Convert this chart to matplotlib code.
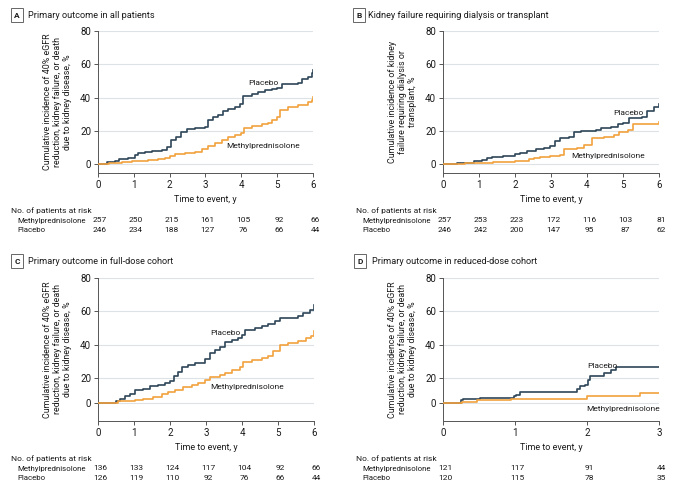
import matplotlib
matplotlib.use('Agg')
import matplotlib.pyplot as plt

plt.rcParams['font.family'] = ['Roboto', 'DejaVu Sans']
plt.rcParams['font.size'] = 6

PLACEBO_COLOR = '#2e4658'
METHYL_COLOR = '#f2a23d'
GRID_COLOR = '#dce2e6'
TEXT_COLOR = '#1a1a1a'

# Panel A: primary outcome in all patients
a_placebo_t = [0, 0.25, 0.47, 0.6, 0.85, 1.03, 1.13, 1.31, 1.5, 1.78, 1.92, 2.05, 2.19, 2.33,
               2.47, 2.7, 2.98, 3.07, 3.22, 3.36, 3.5, 3.64, 3.82, 3.96, 4.05, 4.29, 4.47,
               4.66, 4.85, 5.0, 5.13, 5.59, 5.68, 5.87, 5.96, 6.0]
a_placebo_v = [0, 1.0, 1.8, 2.8, 3.8, 5.4, 6.8, 7.2, 7.8, 8.2, 10, 14.4, 16, 19, 20.8, 21.4,
               22.4, 26.4, 28.4, 29.5, 31.9, 33, 34, 36, 41, 42, 43.5, 44.5, 45, 46, 48, 48.5,
               51, 52.5, 54.5, 56.5]
a_methyl_t = [0, 0.3, 0.5, 0.66, 0.94, 1.13, 1.4, 1.68, 1.87, 2.01, 2.15, 2.43, 2.7, 2.89,
              3.08, 3.26, 3.45, 3.64, 3.82, 4.0, 4.08, 4.29, 4.57, 4.75, 4.85, 5.0, 5.08, 5.31,
              5.59, 5.87, 5.96, 6.0]
a_methyl_v = [0, 0.4, 0.7, 1.0, 1.6, 2.0, 2.4, 3.0, 3.8, 5.0, 5.8, 6.4, 7.4, 9.0, 11, 12.4,
              14.4, 16, 17.4, 18.4, 21.8, 23, 23.8, 24.6, 26.4, 28.4, 32.5, 34, 35.5, 37.5,
              38.5, 40.5]
a_risk_methyl = [257, 250, 215, 161, 105, 92, 66]
a_risk_placebo = [246, 234, 188, 127, 76, 66, 44]

# Panel B: kidney failure requiring dialysis or transplant
b_placebo_t = [0, 0.4, 0.6, 0.85, 1.08, 1.22, 1.36, 1.68, 2.0, 2.15, 2.33, 2.57, 2.8, 2.98,
               3.12, 3.26, 3.5, 3.64, 3.82, 4.24, 4.38, 4.66, 4.85, 5.0, 5.17, 5.54, 5.68,
               5.87, 6.0]
b_placebo_v = [0, 0.5, 0.8, 1.6, 2.4, 3.4, 4.2, 4.8, 5.8, 6.8, 7.8, 8.8, 9.4, 10.8, 13.8,
               15.4, 16.4, 19.4, 19.8, 20.4, 21.4, 22.4, 23.8, 24.4, 27.8, 28.4, 31.9, 34.5,
               35.9]
b_methyl_t = [0, 0.6, 1.13, 1.4, 1.78, 2.01, 2.38, 2.52, 2.7, 2.98, 3.26, 3.37, 3.73, 3.91,
              4.15, 4.47, 4.75, 4.89, 5.13, 5.27, 5.68, 6.0]
b_methyl_v = [0, 0.4, 0.8, 1.2, 1.4, 2.0, 2.8, 3.4, 4.0, 4.8, 5.4, 9.0, 9.4, 11.4, 15.4, 16,
              17.4, 19.4, 20.4, 23.8, 24.2, 25]
b_risk_methyl = [257, 253, 223, 172, 116, 103, 81]
b_risk_placebo = [246, 242, 200, 147, 95, 87, 62]

# Panel C: full-dose cohort (values read against the 20/40/60/80 gridlines;
# the "0" tick in the original sits a little above true zero)
c_placebo_t = [0, 0.5, 0.6, 0.75, 0.89, 1.03, 1.26, 1.44, 1.68, 1.86, 2.0, 2.11, 2.23, 2.34,
               2.51, 2.69, 2.9, 2.97, 3.11, 3.25, 3.39, 3.53, 3.71, 3.9, 3.99, 4.07, 4.36,
               4.55, 4.73, 4.92, 5.06, 5.56, 5.7, 5.89, 6.0]
c_placebo_v = [4.6, 6.0, 7.5, 8.9, 10.5, 12.5, 13.5, 15, 15.6, 16.6, 18.2, 21, 23.6, 26.3,
               27.7, 28.7, 29.1, 31.1, 34.7, 36.8, 38.4, 41.8, 42.8, 43.8, 45.9, 48.9, 49.9,
               51.3, 52.3, 53.9, 56, 57, 59, 61, 64]
c_methyl_t = [0, 0.55, 1.03, 1.26, 1.54, 1.77, 1.95, 2.14, 2.37, 2.6, 2.79, 2.97, 3.11, 3.39,
              3.53, 3.71, 3.94, 4.04, 4.27, 4.55, 4.73, 4.87, 5.06, 5.29, 5.56, 5.79, 5.93,
              6.0]
c_methyl_v = [4.6, 5.9, 6.5, 7.5, 8.5, 10.1, 11.5, 12.9, 14.5, 15.6, 16.6, 18.6, 20.2, 21.6,
              23, 24.6, 26.7, 29.7, 30.7, 31.7, 33.1, 35.8, 39.8, 41.2, 42.4, 43.8, 45.3, 47.9]
c_risk_methyl = [136, 133, 124, 117, 104, 92, 66]
c_risk_placebo = [126, 119, 110, 92, 76, 66, 44]

# Panel D: reduced-dose cohort
d_placebo_t = [0, 0.25, 0.28, 0.51, 0.98, 1.02, 1.07, 1.86, 1.9, 1.97, 2.01, 2.04, 2.23,
               2.34, 2.4, 3.0]
d_placebo_v = [4.6, 6.5, 7.5, 8.1, 8.9, 9.9, 11.5, 13.5, 15, 15.6, 18.6, 21, 22.6, 24.6,
               26.7, 26.7]
d_methyl_t = [0, 0.26, 0.47, 0.95, 2.0, 2.74, 3.0]
d_methyl_v = [4.6, 5.5, 6.5, 7.5, 8.9, 11.1, 11.1]
d_risk_methyl = [121, 117, 91, 44]
d_risk_placebo = [120, 115, 78, 35]

YLABEL_PRIMARY = ('Cumulative incidence of 40% eGFR\nreduction, kidney failure, or death\n'
                  'due to kidney disease, %')
YLABEL_KIDNEY = 'Cumulative incidence of kidney\nfailure requiring dialysis or\ntransplant, %'

W, H = 680, 492
fig = plt.figure(figsize=(W / 100, H / 100), dpi=100)


def px_axes(left, top, width, height):
    return fig.add_axes([left / W, 1 - (top + height) / H, width / W, height / H])


def draw_panel(ax, letter, title, box_xy, title_x, pt, pv, mt, mv, xmax, ylow, zero_pos,
               ylabel, placebo_xy, methyl_xy, risk_m, risk_p):
    ax.step(pt, pv, where='post', color=PLACEBO_COLOR, lw=1.2, zorder=3)
    ax.step(mt, mv, where='post', color=METHYL_COLOR, lw=1.2, zorder=3)

    ax.set_xlim(0, xmax)
    ax.set_ylim(ylow, 80)
    yt = [zero_pos, 20, 40, 60, 80]
    ax.set_yticks(yt)
    ax.set_yticklabels(['0', '20', '40', '60', '80'])
    ax.set_xticks(range(xmax + 1))
    for y in yt:
        ax.axhline(y, color=GRID_COLOR, lw=0.8, zorder=1)

    for s in ['top', 'right']:
        ax.spines[s].set_visible(False)
    for s in ['left', 'bottom']:
        ax.spines[s].set_color('#555555')
        ax.spines[s].set_linewidth(0.7)
    ax.tick_params(length=3, width=0.7, color='#555555', labelsize=7, labelcolor=TEXT_COLOR,
                   pad=2)
    ax.set_xlabel('Time to event, y', fontsize=6.5, color=TEXT_COLOR, labelpad=4)
    ax.set_ylabel(ylabel, fontsize=6.4, color=TEXT_COLOR, labelpad=6, linespacing=1.1)

    ax.text(placebo_xy[0], placebo_xy[1], 'Placebo', fontsize=6, color=TEXT_COLOR,
            ha='left', va='center', zorder=4)
    ax.text(methyl_xy[0], methyl_xy[1], 'Methylprednisolone', fontsize=6, color=TEXT_COLOR,
            ha='left', va='center', zorder=4)

    # panel letter and title
    fig.text(box_xy[0] / W, 1 - box_xy[1] / H, letter, fontsize=6, fontweight='bold',
             ha='center', va='center', color=TEXT_COLOR,
             bbox=dict(boxstyle='square,pad=0.4', facecolor='white', edgecolor='#666666',
                       linewidth=0.7))
    fig.text(title_x / W, 1 - box_xy[1] / H, title, fontsize=6.6, ha='left', va='center',
             color=TEXT_COLOR)

    # number at risk table
    ax.annotate('No. of patients at risk', xy=(0, 0), xycoords='axes fraction',
                xytext=(-87, -38), textcoords='offset pixels', ha='left', va='center',
                fontsize=6, color=TEXT_COLOR, annotation_clip=False)
    for name, counts, dy in [('Methylprednisolone', risk_m, -47.5), ('Placebo', risk_p, -57)]:
        ax.annotate(name, xy=(0, 0), xycoords='axes fraction', xytext=(-81, dy),
                    textcoords='offset pixels', ha='left', va='center', fontsize=5.7,
                    color=TEXT_COLOR, annotation_clip=False)
        for t, n in enumerate(counts):
            ax.annotate(str(n), xy=(t, 0), xycoords=('data', 'axes fraction'),
                        xytext=(2, dy), textcoords='offset pixels', ha='center',
                        va='center', fontsize=6, color=TEXT_COLOR, annotation_clip=False)


ax_a = px_axes(98, 31, 215, 142)
draw_panel(ax_a, 'A', 'Primary outcome in all patients', (17, 15), 28,
           a_placebo_t, a_placebo_v, a_methyl_t, a_methyl_v, 6, -5.4, 0, YLABEL_PRIMARY,
           (4.18, 48.7), (3.57, 10.8), a_risk_methyl, a_risk_placebo)

ax_b = px_axes(443, 31, 216, 142)
draw_panel(ax_b, 'B', 'Kidney failure requiring dialysis or transplant', (359, 15), 368,
           b_placebo_t, b_placebo_v, b_methyl_t, b_methyl_v, 6, -5.4, 0, YLABEL_KIDNEY,
           (4.72, 30.7), (3.56, 4.8), b_risk_methyl, b_risk_placebo)

ax_c = px_axes(98, 278, 216, 143)
draw_panel(ax_c, 'C', 'Primary outcome in full-dose cohort', (17, 261), 28,
           c_placebo_t, c_placebo_v, c_methyl_t, c_methyl_v, 6, -6, 4.6, YLABEL_PRIMARY,
           (3.11, 46.8), (3.11, 14.4), c_risk_methyl, c_risk_placebo)

ax_d = px_axes(443, 278, 216, 143)
draw_panel(ax_d, 'D', 'Primary outcome in reduced-dose cohort', (360, 261), 372,
           d_placebo_t, d_placebo_v, d_methyl_t, d_methyl_v, 3, -6, 4.6, YLABEL_PRIMARY,
           (2.0, 27), (1.99, 1.2), d_risk_methyl, d_risk_placebo)

fig.savefig('out.png', dpi=100)
print("Saved out.png")
